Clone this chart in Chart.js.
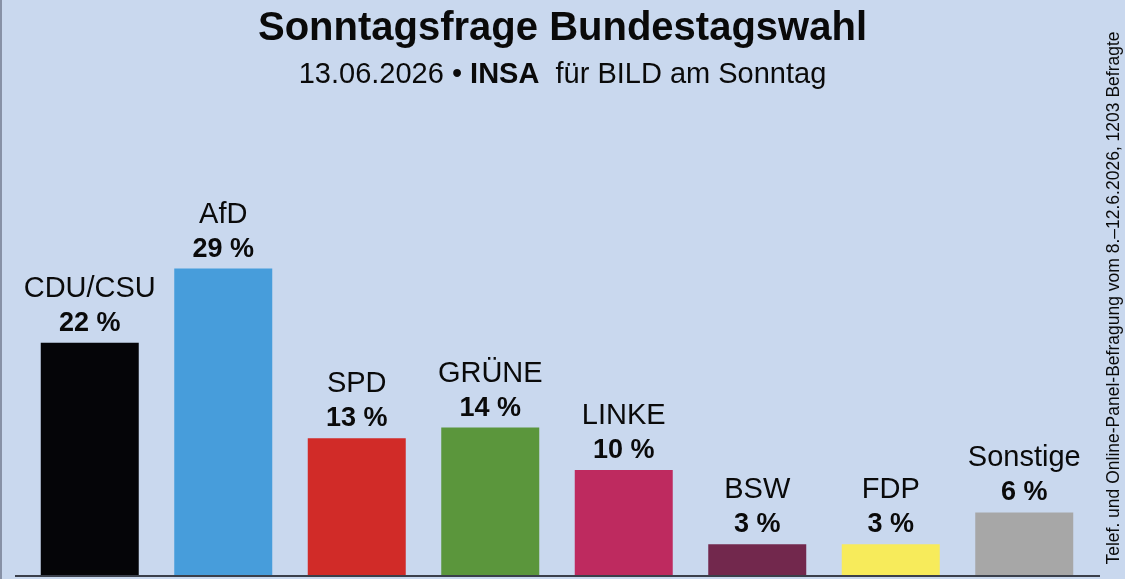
<!DOCTYPE html>
<html>
<head>
<meta charset="utf-8">
<script src="https://cdn.jsdelivr.net/npm/chart.js@4"></script>
<style>
  html, body { margin: 0; padding: 0; background: #c9d8ee; overflow: hidden; }
  canvas { display: block; }
</style>
</head>
<body>
<canvas id="chart" width="1125" height="579"></canvas>
<script>
const parties = ['CDU/CSU', 'AfD', 'SPD', 'GRÜNE', 'LINKE', 'BSW', 'FDP', 'Sonstige'];
const values = [22, 29, 13, 14, 10, 3, 3, 6];
const barColors = ['#050508', '#479ddb', '#d12b28', '#5b963c', '#be2a5f', '#72284d', '#f7eb5b', '#a7a7a7'];

const titleText = 'Sonntagsfrage Bundestagswahl';
const subtitleParts = [
  { text: '13.06.2026 • ', bold: false },
  { text: 'INSA', bold: true },
  { text: '  für BILD am Sonntag', bold: false }
];
const sideNote = 'Telef. und Online-Panel-Befragung vom 8.–12.6.2026, 1203 Befragte';

const FONT = '"Liberation Sans", Arial, sans-serif';

// background, frame, headings and the side note
const decorPlugin = {
  id: 'decor',
  beforeDraw(chart) {
    const ctx = chart.ctx;
    ctx.save();
    ctx.fillStyle = '#c9d8ee';
    ctx.fillRect(0, 0, chart.width, chart.height);
    ctx.fillStyle = '#8791a6';
    ctx.fillRect(0, 0, 2, chart.height);
    ctx.restore();
  },
  afterDraw(chart) {
    const ctx = chart.ctx;
    const cx = chart.width / 2;
    ctx.save();
    ctx.fillStyle = '#0a0a0a';
    ctx.textAlign = 'center';
    ctx.textBaseline = 'alphabetic';
    ctx.font = 'bold 40px ' + FONT;
    ctx.fillText(titleText, cx, 40);

    // subtitle with bold INSA
    const fontFor = p => (p.bold ? 'bold ' : '') + '29px ' + FONT;
    let total = 0;
    subtitleParts.forEach(p => { ctx.font = fontFor(p); total += ctx.measureText(p.text).width; });
    let x = cx - total / 2;
    ctx.textAlign = 'left';
    subtitleParts.forEach(p => {
      ctx.font = fontFor(p);
      ctx.fillText(p.text, x, 83);
      x += ctx.measureText(p.text).width;
    });

    // side note, rotated
    ctx.translate(1114, 298);
    ctx.rotate(-Math.PI / 2);
    ctx.textAlign = 'center';
    ctx.textBaseline = 'middle';
    ctx.font = '17.5px ' + FONT;
    ctx.fillText(sideNote, 0, 0);
    ctx.restore();
  }
};

// party name and value above every bar, plus the base line
const barLabelPlugin = {
  id: 'barLabels',
  afterDatasetsDraw(chart) {
    const ctx = chart.ctx;
    const meta = chart.getDatasetMeta(0);
    const yScale = chart.scales.y;
    ctx.save();
    ctx.fillStyle = '#3a3f4a';
    ctx.fillRect(15, yScale.getPixelForValue(0) - 1, 1085, 2);

    ctx.fillStyle = '#0a0a0a';
    ctx.textAlign = 'center';
    ctx.textBaseline = 'alphabetic';
    meta.data.forEach((bar, i) => {
      ctx.font = 'bold 27px ' + FONT;
      ctx.fillText(values[i] + ' %', bar.x, bar.y - 12);
      ctx.font = '29px ' + FONT;
      ctx.fillText(parties[i], bar.x, bar.y - 46);
    });
    ctx.restore();
  }
};

new Chart(document.getElementById('chart').getContext('2d'), {
  type: 'bar',
  data: {
    labels: parties,
    datasets: [{
      data: values,
      backgroundColor: barColors,
      borderWidth: 0,
      categoryPercentage: 1,
      barPercentage: 0.734
    }]
  },
  options: {
    responsive: false,
    animation: false,
    events: [],
    layout: {
      padding: { left: 23, right: 34, top: 46, bottom: 3 }
    },
    plugins: {
      legend: { display: false },
      tooltip: { enabled: false }
    },
    scales: {
      x: { display: false },
      y: { display: false, min: 0, max: 50 }
    }
  },
  plugins: [decorPlugin, barLabelPlugin]
});
</script>
</body>
</html>
